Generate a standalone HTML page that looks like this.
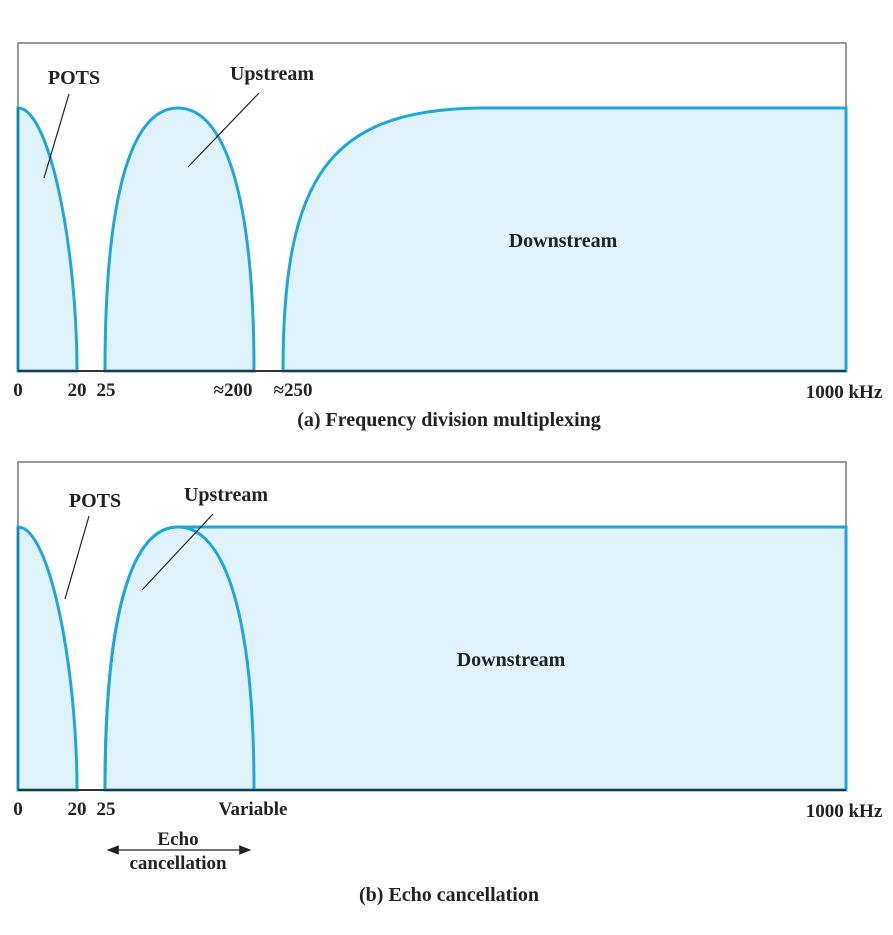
<!DOCTYPE html>
<html><head><style>
body{margin:0;background:#fff;}
svg text{font-family:"Liberation Serif",serif;font-weight:bold;fill:#222;}
</style></head><body>
<svg width="893" height="930" xmlns="http://www.w3.org/2000/svg">
<defs><marker id="ar" markerWidth="10" markerHeight="8" refX="9" refY="4" orient="auto-start-reverse"><path d="M0,0 L10,4 L0,8 z" fill="#222"/></marker></defs>
<!-- Panel a -->
<rect x="18" y="43" width="828" height="328" fill="#fff" stroke="#555" stroke-width="1.2"/>
<g fill="#e0f3fc" stroke="#1ea7dc" stroke-width="3">
<path d="M18,371 L18,108 C50,108 77,250 77,371 Z"/>
<path d="M105,371 C105,200 130,108 178,108 C226,108 254,200 254,371 Z"/>
<path d="M283,371 C283,175 330,110 480,108 L846,108 L846,371 Z"/>
</g>
<line x1="18" y1="108" x2="18" y2="371" stroke="#1e7fa8" stroke-width="2"/>
<line x1="18" y1="371" x2="846" y2="371" stroke="#333" stroke-width="2"/>
<line x1="69" y1="94" x2="44" y2="178" stroke="#222" stroke-width="1.2"/>
<line x1="259" y1="93" x2="188" y2="167" stroke="#222" stroke-width="1.2"/>
<text x="74" y="84" font-size="20" text-anchor="middle">POTS</text>
<text x="272" y="80" font-size="20" text-anchor="middle">Upstream</text>
<text x="563" y="247" font-size="20" text-anchor="middle">Downstream</text>
<text x="18" y="396" font-size="19" text-anchor="middle">0</text>
<text x="77" y="396" font-size="19" text-anchor="middle">20</text>
<text x="106" y="396" font-size="19" text-anchor="middle">25</text>
<text x="233" y="396" font-size="19" text-anchor="middle">≈200</text>
<text x="293" y="396" font-size="19" text-anchor="middle">≈250</text>
<text x="844" y="398" font-size="19" text-anchor="middle">1000 kHz</text>
<text x="449" y="426" font-size="20" text-anchor="middle">(a) Frequency division multiplexing</text>
<!-- Panel b -->
<rect x="18" y="462" width="828" height="328" fill="#fff" stroke="#555" stroke-width="1.2"/>
<g fill="#e0f3fc" stroke="#1ea7dc" stroke-width="3">
<path d="M18,790 L18,527 C50,527 77,669 77,790 Z"/>
<path d="M105,790 C105,619 130,527 178,527 L846,527 L846,790 Z"/>
<path d="M105,790 C105,619 130,527 178,527 C226,527 254,619 254,790" fill="none"/>
</g>
<line x1="18" y1="527" x2="18" y2="790" stroke="#1e7fa8" stroke-width="2"/>
<line x1="18" y1="790" x2="846" y2="790" stroke="#333" stroke-width="2"/>
<line x1="89" y1="516" x2="65" y2="599" stroke="#222" stroke-width="1.2"/>
<line x1="213" y1="514" x2="142" y2="590" stroke="#222" stroke-width="1.2"/>
<text x="95" y="507" font-size="20" text-anchor="middle">POTS</text>
<text x="226" y="501" font-size="20" text-anchor="middle">Upstream</text>
<text x="511" y="666" font-size="20" text-anchor="middle">Downstream</text>
<text x="18" y="815" font-size="19" text-anchor="middle">0</text>
<text x="77" y="815" font-size="19" text-anchor="middle">20</text>
<text x="106" y="815" font-size="19" text-anchor="middle">25</text>
<text x="253" y="815" font-size="19" text-anchor="middle">Variable</text>
<text x="844" y="817" font-size="19" text-anchor="middle">1000 kHz</text>
<line x1="108" y1="850" x2="250" y2="850" stroke="#222" stroke-width="1.2" marker-start="url(#ar)" marker-end="url(#ar)"/>
<text x="178" y="845" font-size="19" text-anchor="middle">Echo</text>
<text x="178" y="869" font-size="19" text-anchor="middle">cancellation</text>
<text x="449" y="901" font-size="20" text-anchor="middle">(b) Echo cancellation</text>
</svg>
</body></html>
